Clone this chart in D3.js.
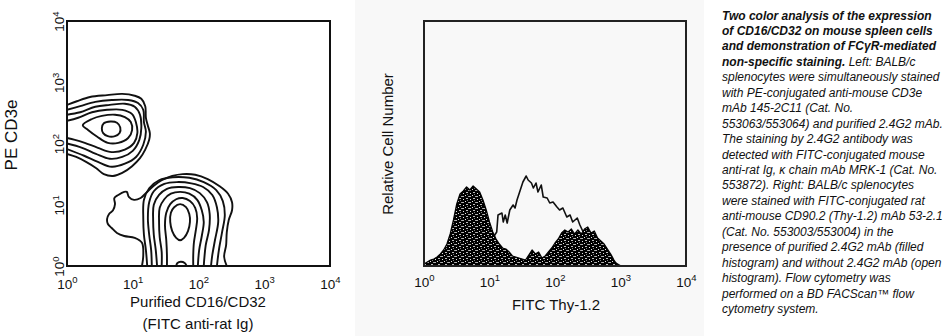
<!DOCTYPE html>
<html>
<head>
<meta charset="utf-8">
<script src="https://cdn.jsdelivr.net/npm/d3@7"></script>
<style>
  html, body { margin: 0; padding: 0; background: #fff; }
  svg { display: block; font-family: "Liberation Sans", Arial, Helvetica, sans-serif; }
</style>
</head>
<body>
<svg id="fig" width="943" height="336"></svg>
<script>
// ---- tick values shared by both four-decade log axes ----
const decadeTicks = [1, 10, 100, 1000, 10000];
const decadeExponents = ["0", "1", "2", "3", "4"];

// ---- left panel: PE CD3e vs purified CD16/CD32 contour lines ----
// vertices are [log10 FITC, log10 PE]
const tCellOpenContours = [
  [[0,2.63],[0.15,2.69],[0.35,2.76],[0.61,2.79],[0.84,2.81],[1.03,2.78],[1.13,2.73],[1.19,2.61],[1.20,2.42],[1.23,2.29],[1.26,2.17],[1.25,2.06],[1.19,1.90],[1.11,1.76],[0.99,1.63],[0.84,1.52],[0.70,1.47],[0.56,1.50],[0.44,1.60],[0.29,1.70],[0.14,1.78],[0,1.83]],
  [[0,2.55],[0.20,2.61],[0.43,2.68],[0.68,2.71],[0.93,2.71],[1.08,2.66],[1.16,2.55],[1.17,2.35],[1.20,2.19],[1.16,1.98],[1.05,1.78],[0.88,1.67],[0.68,1.62],[0.47,1.70],[0.26,1.80],[0,1.91]],
  [[0,2.47],[0.20,2.51],[0.43,2.60],[0.65,2.63],[0.88,2.65],[1.03,2.60],[1.11,2.47],[1.13,2.25],[1.10,2.06],[1.00,1.88],[0.84,1.78],[0.65,1.75],[0.44,1.83],[0.23,1.93],[0,2.00]],
  [[0,2.37],[0.17,2.42],[0.38,2.51],[0.61,2.55],[0.84,2.55],[0.99,2.48],[1.05,2.34],[1.07,2.17],[1.02,2.01],[0.88,1.90],[0.68,1.86],[0.47,1.93],[0.27,2.01],[0.12,2.06],[0,2.09]]
];
const tCellClosedContours = [
  [[0.24,2.30],[0.38,2.40],[0.53,2.45],[0.73,2.47],[0.88,2.43],[0.97,2.35],[0.99,2.22],[0.93,2.09],[0.78,2.01],[0.62,2.01],[0.46,2.11],[0.32,2.22]],
  [[0.53,2.25],[0.56,2.33],[0.66,2.36],[0.76,2.34],[0.81,2.26],[0.80,2.17],[0.73,2.12],[0.62,2.12],[0.55,2.17]]
];
const fcrOpenContours = [
  [[1.14,0],[1.16,0.18],[1.14,0.38],[1.03,0.46],[0.87,0.49],[0.76,0.54],[0.68,0.62],[0.62,0.69],[0.61,0.77],[0.64,0.85],[0.70,0.91],[0.73,1.01],[0.72,1.11],[0.78,1.16],[0.87,1.21],[0.91,1.21],[0.94,1.13],[1.02,1.08],[1.12,1.11],[1.20,1.19],[1.32,1.31],[1.44,1.40],[1.60,1.47],[1.76,1.50],[1.95,1.49],[2.14,1.42],[2.31,1.31],[2.45,1.18],[2.51,1.04],[2.51,0.91],[2.46,0.75],[2.43,0.55],[2.42,0.34],[2.39,0.15],[2.43,0]],
  [[1.22,0],[1.20,0.26],[1.17,0.51],[1.16,0.78],[1.17,1.08],[1.25,1.27],[1.40,1.40],[1.61,1.45],[1.86,1.44],[2.08,1.37],[2.27,1.24],[2.37,1.06],[2.40,0.83],[2.36,0.56],[2.31,0.26],[2.28,0]],
  [[1.29,0],[1.28,0.26],[1.25,0.51],[1.23,0.78],[1.25,1.04],[1.32,1.22],[1.48,1.34],[1.67,1.37],[1.89,1.35],[2.07,1.29],[2.21,1.16],[2.28,0.96],[2.30,0.72],[2.25,0.42],[2.21,0.18],[2.19,0]],
  [[1.37,0],[1.35,0.26],[1.32,0.51],[1.31,0.75],[1.32,1.00],[1.40,1.16],[1.52,1.26],[1.69,1.29],[1.87,1.27],[2.02,1.19],[2.13,1.04],[2.17,0.85],[2.16,0.59],[2.11,0.34],[2.08,0]],
  [[1.44,0],[1.44,0.23],[1.41,0.47],[1.40,0.72],[1.41,0.95],[1.48,1.09],[1.58,1.18],[1.72,1.21],[1.86,1.18],[1.98,1.08],[2.05,0.91],[2.08,0.72],[2.05,0.49],[2.01,0.26],[1.99,0]],
  [[1.52,0],[1.52,0.18],[1.51,0.42],[1.49,0.67],[1.51,0.87],[1.57,1.01],[1.66,1.09],[1.76,1.11],[1.87,1.06],[1.95,0.95],[1.98,0.78],[1.96,0.59],[1.93,0.38],[1.92,0.18],[1.92,0]],
  [[1.66,0],[1.68,0.05],[1.73,0.07],[1.79,0.05],[1.82,0]]
];
const fcrClosedContours = [
  [[1.72,1.01],[1.81,0.96],[1.86,0.85],[1.87,0.72],[1.84,0.57],[1.78,0.46],[1.72,0.42],[1.66,0.46],[1.60,0.57],[1.57,0.72],[1.58,0.87],[1.63,0.96]]
];

// ---- right panel: FITC Thy-1.2 histograms ----
// positions in log10 FITC, heights in relative cell number
const blockedLog = [0.00,0.05,0.10,0.15,0.20,0.25,0.30,0.35,0.40,0.45,0.50,0.55,0.60,0.65,0.70,0.75,0.80,0.85,0.90,0.95,
  1.00,1.05,1.10,1.15,1.20,1.25,1.30,1.35,1.40,1.45,1.50,1.55,1.60,1.65,1.70,1.75,1.80,1.85,1.90,1.95,
  2.00,2.05,2.10,2.15,2.20,2.25,2.30,2.35,2.40,2.45,2.50,2.55,2.60,2.65,2.70,2.75,2.80,2.85,2.90,2.95,3.00];
const blockedCounts = [2,4,6,7,9,12,16,22,32,46,62,72,75,79,76,80,77,74,66,56,
  44,34,27,22,18,17,14,10,9,8,7,6,11,16,12,14,8,10,14,18,
  23,27,33,36,34,37,32,36,32,37,39,33,35,28,25,22,17,12,6,1,0];
const unblockedLog = [0.00,0.20,0.40,0.60,0.80,1.00,1.05,1.11,1.13,1.19,1.21,1.24,1.27,1.31,1.36,1.39,1.42,1.47,1.51,1.56,1.59,
  1.64,1.67,1.71,1.74,1.79,1.82,1.88,1.92,1.97,2.03,2.07,2.12,2.18,2.23,2.27,2.34,2.38,2.43,2.50,2.60,2.70,2.80,2.90,3.00];
const unblockedCounts = [1,5,12,18,22,26,28,34,51,53,44,51,43,56,61,58,66,76,84,90,86,
  83,78,83,74,81,69,68,63,64,59,56,58,49,51,44,48,41,34,30,24,18,11,4,0];

// ---- caption ----
const captionLines = [
  "Two color analysis of the expression",
  "of CD16/CD32 on mouse spleen cells",
  "and demonstration of FCγR-mediated",
  "non-specific staining. Left: BALB/c",
  "splenocytes were simultaneously stained",
  "with PE-conjugated anti-mouse CD3e",
  "mAb 145-2C11 (Cat. No.",
  "553063/553064) and purified 2.4G2 mAb.",
  "The staining by 2.4G2 antibody was",
  "detected with FITC-conjugated mouse",
  "anti-rat Ig, κ chain mAb MRK-1 (Cat. No.",
  "553872). Right: BALB/c splenocytes",
  "were stained with FITC-conjugated rat",
  "anti-mouse CD90.2 (Thy-1.2) mAb 53-2.1",
  "(Cat. No. 553003/553004) in the",
  "presence of purified 2.4G2 mAb (filled",
  "histogram) and without 2.4G2 mAb (open",
  "histogram). Flow cytometry was",
  "performed on a BD FACScan™ flow",
  "cytometry system."
];
const captionBoldLead = "non-specific staining.";

// ================= drawing =================
const svg = d3.select("#fig");
const defs = svg.append("defs");

// middle panel backdrop
svg.append("rect").attr("x", 355).attr("y", 0).attr("width", 349).attr("height", 336).attr("fill", "#f8f8f8");

// speckled texture for the filled histogram
const pat = defs.append("pattern").attr("id", "speckle")
  .attr("patternUnits", "userSpaceOnUse").attr("width", 7).attr("height", 6);
pat.append("rect").attr("width", 7).attr("height", 6).attr("fill", "#000");
[[1,1,1,1,0.9],[4,0,2,1,0.75],[3,3,1,1,0.9],[6,4,1,1,0.6],[0,4,2,1,0.7],[5,2,1,1,0.5]].forEach(s => {
  pat.append("rect").attr("x", s[0]).attr("y", s[1]).attr("width", s[2]).attr("height", s[3])
    .attr("fill", "#fff").attr("opacity", s[4]);
});

const FONT = 15;

function decadeLabel(sel) {
  sel.each(function(d, i) {
    const t = d3.select(this).text(null);
    t.append("tspan").text("10");
    t.append("tspan").attr("dy", "-0.55em").attr("font-size", 9.5).text(decadeExponents[i]);
  });
}

// ---------- left panel ----------
const L = { x0: 67, x1: 330, y0: 21, y1: 266 };
const xL = d3.scaleLog().domain([1, 1e4]).range([L.x0, L.x1]);
const yL = d3.scaleLog().domain([1, 1e4]).range([L.y1, L.y0]);

defs.append("clipPath").attr("id", "clipL").append("rect")
  .attr("x", L.x0).attr("y", L.y0).attr("width", L.x1 - L.x0).attr("height", L.y1 - L.y0);

const toPt = p => [xL(Math.pow(10, p[0])), yL(Math.pow(10, p[1]))];
const openLine = d3.line().curve(d3.curveCatmullRom.alpha(0.5));
const closedLine = d3.line().curve(d3.curveCatmullRomClosed.alpha(0.5));

const gC = svg.append("g").attr("clip-path", "url(#clipL)")
  .attr("fill", "none").attr("stroke", "#111").attr("stroke-width", 1.9).attr("stroke-linejoin", "round");
[...tCellOpenContours, ...fcrOpenContours].forEach(c => gC.append("path").attr("d", openLine(c.map(toPt))));
[...tCellClosedContours, ...fcrClosedContours].forEach(c => gC.append("path").attr("d", closedLine(c.map(toPt))));

svg.append("rect").attr("x", L.x0).attr("y", L.y0).attr("width", L.x1 - L.x0).attr("height", L.y1 - L.y0)
  .attr("fill", "none").attr("stroke", "#111").attr("stroke-width", 2);

const axLB = svg.append("g").attr("transform", `translate(0,${L.y1})`)
  .call(d3.axisBottom(xL).tickValues(decadeTicks).tickSize(0).tickPadding(13));
axLB.select(".domain").remove();
axLB.selectAll(".tick text").attr("font-size", 13.5).attr("fill", "#111").attr("font-family", null).call(decadeLabel);

const axLL = svg.append("g").attr("transform", `translate(${L.x0},0)`)
  .call(d3.axisLeft(yL).tickValues(decadeTicks).tickSize(0));
axLL.select(".domain").remove();
axLL.selectAll(".tick text")
  .attr("font-size", 13.5).attr("fill", "#111").attr("font-family", null)
  .attr("text-anchor", "middle").attr("x", 0).attr("y", -3).attr("dy", null)
  .attr("transform", "rotate(-90)").call(decadeLabel);

svg.append("text").attr("x", 198).attr("y", 307).attr("text-anchor", "middle")
  .attr("font-size", FONT).attr("fill", "#111").text("Purified CD16/CD32");
svg.append("text").attr("x", 198).attr("y", 329).attr("text-anchor", "middle")
  .attr("font-size", FONT).attr("fill", "#111").text("(FITC anti-rat Ig)");
svg.append("text").attr("transform", "translate(17,135) rotate(-90)").attr("text-anchor", "middle")
  .attr("font-size", 17).attr("fill", "#111").text("PE CD3e");

// ---------- right panel ----------
const H = { x0: 424, x1: 686, y0: 21, y1: 266 };
const xH = d3.scaleLog().domain([1, 1e4]).range([H.x0, H.x1]);
const yH = d3.scaleLinear().domain([0, 245]).range([H.y1, H.y0]);

const openHist = d3.line()
  .x((d, i) => xH(Math.pow(10, unblockedLog[i])))
  .y(d => yH(d));
svg.append("path").attr("d", openHist(unblockedCounts))
  .attr("fill", "none").attr("stroke", "#111").attr("stroke-width", 1.6).attr("stroke-linejoin", "round");

const filledHist = d3.area()
  .x((d, i) => xH(Math.pow(10, blockedLog[i])))
  .y0(yH(0)).y1(d => yH(d));
svg.append("path").attr("d", filledHist(blockedCounts))
  .attr("fill", "url(#speckle)").attr("stroke", "#000").attr("stroke-width", 1.3).attr("stroke-linejoin", "round");

svg.append("rect").attr("x", H.x0).attr("y", H.y0).attr("width", H.x1 - H.x0).attr("height", H.y1 - H.y0)
  .attr("fill", "none").attr("stroke", "#222").attr("stroke-width", 2);

const axHB = svg.append("g").attr("transform", `translate(0,${H.y1})`)
  .call(d3.axisBottom(xH).tickValues(decadeTicks).tickSize(0).tickPadding(11));
axHB.select(".domain").remove();
axHB.selectAll(".tick text").attr("font-size", 13.5).attr("fill", "#111").attr("font-family", null).call(decadeLabel);

svg.append("text").attr("x", 556).attr("y", 310).attr("text-anchor", "middle")
  .attr("font-size", FONT).attr("fill", "#111").text("FITC Thy-1.2");
svg.append("text").attr("transform", "translate(393,144) rotate(-90)").attr("text-anchor", "middle")
  .attr("font-size", FONT).attr("fill", "#111").text("Relative Cell Number");

// ---------- caption ----------
const cap = svg.append("g").attr("font-size", 12).attr("font-style", "italic").attr("fill", "#111");
captionLines.forEach((line, i) => {
  const t = cap.append("text").attr("x", 722).attr("y", 19.5 + i * 15.45);
  if (i < 3) {
    t.attr("font-weight", "bold").text(line);
  } else if (line.startsWith(captionBoldLead)) {
    t.append("tspan").attr("font-weight", "bold").text(captionBoldLead);
    t.append("tspan").text(line.slice(captionBoldLead.length));
  } else {
    t.text(line);
  }
});
</script>
</body>
</html>
